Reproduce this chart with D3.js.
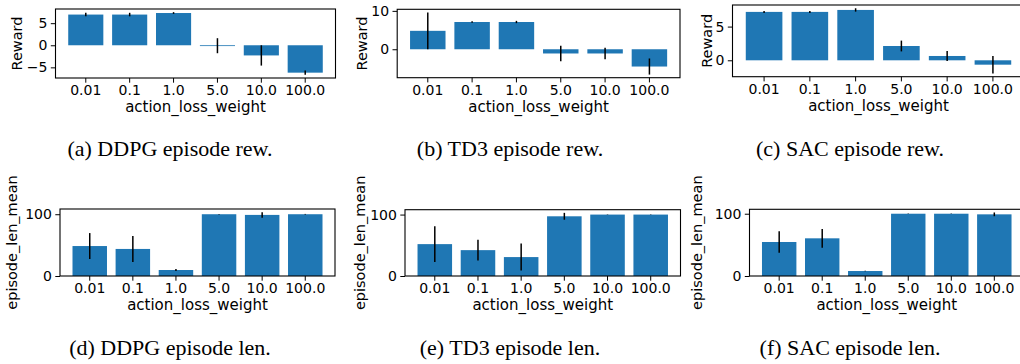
<!DOCTYPE html>
<html>
<head>
<meta charset="utf-8">
<script src="https://cdn.jsdelivr.net/npm/d3@7"></script>
<style>
  body { margin: 0; background: #fff; }
  svg { display: block; }
  .tick text { font-family: "DejaVu Sans", sans-serif; font-size: 14px; fill: #000; }
  .xlabel { font-family: "DejaVu Sans", sans-serif; font-size: 15px; fill: #000; }
  .ylabel { font-family: "DejaVu Sans", sans-serif; font-size: 14.5px; fill: #000; }
  .caption { font-family: "Liberation Serif", "Times New Roman", serif; font-size: 22px; fill: #000; }
</style>
</head>
<body>
<svg id="chart" width="1020" height="364"></svg>
<script>
// x categories shared by every panel
const categories = ["0.01", "0.1", "1.0", "5.0", "10.0", "100.0"];

// episode reward (mean, std)
const ddpgRew = [6.95, 6.95, 7.3, -0.1, -2.3, -6.2];
const ddpgRewErr = [0.4, 0.4, 0.2, 1.7, 2.3, 0.5];
const td3Rew = [4.8, 7.1, 7.1, -1.1, -1.1, -4.5];
const td3RewErr = [4.8, 0.2, 0.3, 2.0, 1.5, 2.1];
const sacRew = [7.18, 7.18, 7.47, 2.12, 0.64, -0.65];
const sacRewErr = [0.15, 0.15, 0.25, 0.8, 0.75, 1.3];

// episode length (mean, std)
const ddpgLen = [48.5, 43.8, 9.7, 100, 98.9, 100];
const ddpgLenErr = [21, 21, 1.5, 0.3, 4.4, 0.5];
const td3Len = [51.9, 42.1, 30.8, 97.2, 100, 100];
const td3LenErr = [29, 17, 22, 5.6, 0.3, 0.3];
const sacLen = [54.6, 60.5, 8.0, 100, 100, 99];
const sacLenErr = [17.4, 15, 0.5, 0.3, 0.3, 3];

// y tick labels
const ticksRewA = [-5, 0, 5];
const ticksRewB = [0, 10];
const ticksRewC = [0, 5];
const ticksLen = [0, 100];

const captions = [
  "(a) DDPG episode rew.", "(b) TD3 episode rew.", "(c) SAC episode rew.",
  "(d) DDPG episode len.", "(e) TD3 episode len.", "(f) SAC episode len."
];

const BAR_COLOR = "#1f77b4";

const panels = [
  {values: ddpgRew, errors: ddpgRewErr, ticks: ticksRewA, ylabel: "Reward", lenPlot: false,
   x0: 55.5, x1: 335.5, y0: 9, y1: 78, ylabelX: 21.7, capX: 170, capY: 156},
  {values: td3Rew, errors: td3RewErr, ticks: ticksRewB, ylabel: "Reward", lenPlot: false,
   x0: 397.2, x1: 680, y0: 9.3, y1: 77.7, ylabelX: 366.7, capX: 510, capY: 156},
  {values: sacRew, errors: sacRewErr, ticks: ticksRewC, ylabel: "Reward", lenPlot: false,
   x0: 732.5, x1: 1024.5, y0: 5, y1: 76.7, ylabelX: 711.7, capX: 850, capY: 156},
  {values: ddpgLen, errors: ddpgLenErr, ticks: ticksLen, ylabel: "episode_len_mean", lenPlot: true,
   x0: 60, x1: 335, y0: 209, y1: 276, ylabelX: 17, capX: 170, capY: 355},
  {values: td3Len, errors: td3LenErr, ticks: ticksLen, ylabel: "episode_len_mean", lenPlot: true,
   x0: 405, x1: 680.5, y0: 209.7, y1: 276, ylabelX: 365, capX: 510, capY: 355},
  {values: sacLen, errors: sacLenErr, ticks: ticksLen, ylabel: "episode_len_mean", lenPlot: true,
   x0: 749.5, x1: 1024, y0: 209.3, y1: 276, ylabelX: 702, capX: 850, capY: 355}
];

const svg = d3.select("#chart");

panels.forEach((p, k) => {
  // matplotlib style limits: 5% margin, sticky bottom at 0 for the length plots
  const lo = d3.min(p.values, (v, i) => Math.min(0, v - p.errors[i]));
  const hi = d3.max(p.values, (v, i) => Math.max(0, v + p.errors[i]));
  const pad = (hi - lo) * 0.05;
  const yDomain = p.lenPlot ? [0, hi + pad] : [lo - pad, hi + pad];

  const x = d3.scaleBand()
    .domain(categories)
    .range([p.x0, p.x1])
    .paddingInner(0.2)
    .paddingOuter(0.29);

  const y = d3.scaleLinear()
    .domain(yDomain)
    .range([p.y1, p.y0]);

  const g = svg.append("g");

  g.selectAll("rect.bar")
    .data(p.values)
    .join("rect")
    .attr("class", "bar")
    .attr("x", (d, i) => x(categories[i]))
    .attr("width", x.bandwidth())
    .attr("y", d => y(Math.max(0, d)))
    .attr("height", d => Math.max(0.8, Math.abs(y(d) - y(0))))
    .attr("fill", BAR_COLOR);

  g.selectAll("line.err")
    .data(p.values)
    .join("line")
    .attr("class", "err")
    .attr("x1", (d, i) => x(categories[i]) + x.bandwidth() / 2)
    .attr("x2", (d, i) => x(categories[i]) + x.bandwidth() / 2)
    .attr("y1", (d, i) => y(d + p.errors[i]))
    .attr("y2", (d, i) => y(d - p.errors[i]))
    .attr("stroke", "#000")
    .attr("stroke-width", 1.5);

  const xAxis = g.append("g")
    .attr("transform", `translate(0,${p.y1})`)
    .call(d3.axisBottom(x).tickSize(4.7).tickSizeOuter(0).tickPadding(2.6));
  const yAxis = g.append("g")
    .attr("transform", `translate(${p.x0},0)`)
    .call(d3.axisLeft(y).tickValues(p.ticks).tickFormat(d3.format("d")).tickSize(4.7).tickPadding(3.4));
  [xAxis, yAxis].forEach(a => {
    a.select(".domain").remove();
    a.selectAll(".tick line").attr("stroke", "#000").attr("stroke-width", 1);
  });

  g.append("rect")
    .attr("x", p.x0)
    .attr("y", p.y0)
    .attr("width", p.x1 - p.x0)
    .attr("height", p.y1 - p.y0)
    .attr("fill", "none")
    .attr("stroke", "#000")
    .attr("stroke-width", 1.1);

  g.append("text")
    .attr("class", "xlabel")
    .attr("x", (p.x0 + p.x1) / 2)
    .attr("y", p.y1 + 34)
    .attr("text-anchor", "middle")
    .text("action_loss_weight");

  g.append("text")
    .attr("class", "ylabel")
    .attr("transform", `translate(${p.ylabelX},${(p.y0 + p.y1) / 2}) rotate(-90)`)
    .attr("text-anchor", "middle")
    .text(p.ylabel);

  // captions sit centred under each subfigure
  svg.append("text")
    .attr("class", "caption")
    .attr("x", p.capX)
    .attr("y", p.capY)
    .attr("text-anchor", "middle")
    .text(captions[k]);
});
</script>
</body>
</html>
